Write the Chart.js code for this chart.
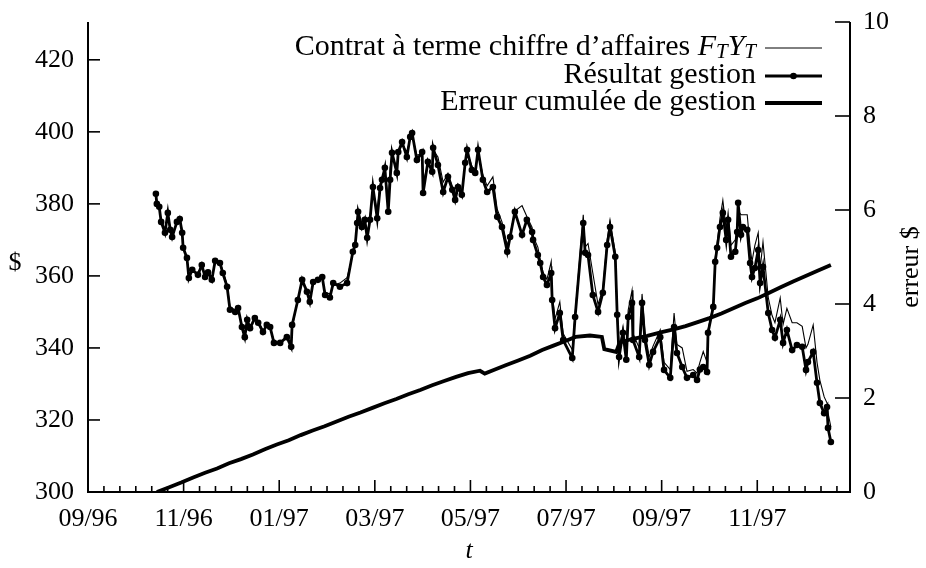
<!DOCTYPE html>
<html><head><meta charset="utf-8">
<script src="https://cdn.jsdelivr.net/npm/chart.js@4.4.1/dist/chart.umd.min.js"></script>
<style>html,body{margin:0;padding:0;background:#fff;}canvas{display:block;}</style>
</head><body>
<canvas id="c" width="926" height="568"></canvas>
<script>
// x values are months elapsed since 09/1996
const monthTicks = [0, 2, 4, 6, 8, 10, 12, 14];
const tickLabels = ['09/96', '11/96', '01/97', '03/97', '05/97', '07/97', '09/97', '11/97'];
const leftTicks = [300, 320, 340, 360, 380, 400, 420];
const rightTicks = [0, 2, 4, 6, 8, 10];

const tResultat = [1.42,1.44,1.49,1.53,1.61,1.67,1.72,1.76,1.86,1.92,1.97,1.99,2.07,2.11,2.18,2.30,2.38,2.45,2.51,2.59,2.66,2.76,2.82,2.91,2.97,3.08,3.14,3.22,3.28,3.33,3.39,3.49,3.56,3.66,3.74,3.81,3.89,4.02,4.16,4.25,4.27,4.39,4.48,4.58,4.64,4.71,4.81,4.90,4.96,5.06,5.13,5.27,5.42,5.54,5.59,5.63,5.65,5.73,5.79,5.84,5.90,5.96,6.05,6.11,6.15,6.21,6.28,6.32,6.36,6.46,6.49,6.57,6.67,6.74,6.78,6.88,6.99,7.01,7.11,7.20,7.22,7.32,7.43,7.53,7.62,7.68,7.74,7.82,7.89,7.93,8.03,8.10,8.16,8.26,8.35,8.47,8.56,8.66,8.77,8.83,8.93,9.08,9.18,9.29,9.31,9.41,9.46,9.52,9.60,9.69,9.71,9.77,9.87,9.94,10.13,10.19,10.36,10.40,10.46,10.56,10.67,10.77,10.86,10.92,11.03,11.07,11.11,11.19,11.26,11.30,11.38,11.40,11.53,11.59,11.65,11.74,11.82,11.97,12.05,12.18,12.26,12.32,12.43,12.53,12.66,12.74,12.80,12.87,12.95,12.97,13.08,13.12,13.16,13.22,13.28,13.35,13.39,13.45,13.54,13.58,13.60,13.66,13.70,13.79,13.85,13.89,13.95,14.02,14.06,14.12,14.23,14.31,14.37,14.48,14.54,14.62,14.73,14.83,14.94,15.02,15.06,15.17,15.25,15.31,15.40,15.46,15.48,15.54];

const resultat = [382.8,380.0,379.2,375.0,372.0,377.5,372.8,370.8,375.0,375.8,372.0,367.8,365.0,359.4,361.7,360.3,363.0,359.7,361.0,358.9,364.2,363.6,360.8,357.0,350.6,350.0,351.1,345.8,343.0,347.8,345.5,348.3,347.0,344.4,346.4,345.8,341.4,341.4,343.0,340.3,346.4,353.3,358.9,355.6,352.8,358.3,358.9,359.7,354.7,354.0,358.0,357.0,358.0,366.7,368.6,374.7,377.8,373.6,375.6,370.6,375.6,384.7,376.0,384.4,386.7,390.0,377.8,386.7,394.2,388.6,394.4,397.2,393.0,398.6,399.7,392.2,394.4,383.0,391.7,388.9,395.6,390.8,383.3,387.5,383.9,381.1,384.7,382.5,391.4,395.0,389.4,388.6,395.0,386.7,383.3,384.7,376.4,373.6,366.7,370.8,377.8,371.4,375.6,372.2,370.0,365.8,363.6,359.7,357.5,360.8,353.3,345.5,349.7,342.2,337.2,348.6,374.7,366.4,365.8,354.7,350.0,355.3,368.6,373.6,365.3,349.2,337.5,344.2,336.7,348.6,352.5,342.2,337.5,352.5,342.2,335.3,338.9,343.0,333.9,331.7,345.8,338.6,334.7,331.7,332.5,331.1,334.0,334.7,333.3,344.2,351.4,363.9,367.8,373.6,377.5,370.0,375.6,365.3,366.7,372.2,380.3,371.4,373.6,372.8,363.6,359.7,362.2,367.2,358.0,362.5,349.7,345.0,342.8,347.8,341.4,345.0,339.4,340.8,340.3,333.9,336.1,338.9,330.3,324.7,321.9,323.6,317.8,313.9];

const contrat = [382.0,381.0,378.5,375.8,373.0,376.5,373.5,371.5,374.5,376.5,372.5,368.5,364.5,360.5,361.0,361.0,362.5,360.5,361.5,359.5,363.5,364.0,361.5,357.5,351.5,350.5,350.8,346.5,344.0,347.0,346.0,347.8,347.5,345.0,346.0,345.5,342.0,341.0,343.5,341.0,345.5,353.8,358.0,356.2,353.5,357.8,359.5,359.0,355.5,355.0,357.5,358.0,359.5,366.0,369.5,374.0,377.0,374.5,375.0,371.5,376.5,384.0,378.0,385.5,387.0,389.5,381.0,390.0,393.5,390.0,393.8,396.5,394.5,398.0,399.0,393.5,394.0,386.0,391.0,390.0,395.0,393.0,386.0,388.5,385.0,382.5,385.5,383.5,391.0,394.5,390.5,389.0,394.5,388.0,385.0,387.5,378.5,375.0,368.5,371.5,378.0,379.5,376.5,373.5,371.0,368.0,364.5,361.0,359.0,364.0,355.0,348.0,352.8,344.0,339.5,349.5,377.0,368.0,369.0,360.8,352.0,356.5,370.0,375.5,366.5,351.0,340.0,345.5,339.0,350.5,356.0,344.0,340.0,355.0,344.5,337.5,340.5,345.0,336.0,334.0,349.7,341.0,340.0,333.5,334.0,333.0,336.0,339.0,336.0,345.0,352.0,365.0,369.0,376.0,381.0,373.0,377.5,368.5,370.0,374.0,378.0,377.0,377.0,377.0,368.0,364.0,368.5,372.0,362.0,369.4,354.0,349.0,347.0,353.9,346.5,351.0,347.0,347.0,346.0,340.0,341.0,346.4,336.0,331.0,326.4,324.7,322.0,318.0];

const tErreur = [1.44,1.70,1.95,2.20,2.45,2.70,2.95,3.20,3.45,3.70,3.95,4.20,4.45,4.70,4.95,5.20,5.45,5.70,5.95,6.20,6.45,6.70,6.95,7.20,7.45,7.70,7.95,8.20,8.30,8.50,8.75,9.00,9.25,9.50,9.75,10.00,10.20,10.50,10.75,10.80,11.05,11.12,11.40,11.70,12.00,12.25,12.50,12.80,13.00,13.25,13.50,13.75,14.00,14.25,14.50,14.75,15.00,15.25,15.54];
const erreur = [0.00,0.10,0.20,0.31,0.41,0.50,0.61,0.70,0.80,0.91,1.01,1.10,1.21,1.31,1.40,1.50,1.60,1.69,1.79,1.89,1.98,2.08,2.17,2.27,2.36,2.45,2.53,2.58,2.52,2.60,2.70,2.80,2.90,3.02,3.12,3.22,3.30,3.33,3.30,3.04,2.98,3.18,3.26,3.32,3.40,3.46,3.53,3.63,3.70,3.80,3.91,4.02,4.12,4.24,4.36,4.48,4.59,4.70,4.83];

const SERIF = "'Liberation Serif', 'Times New Roman', serif";
Chart.defaults.font.family = SERIF;
Chart.defaults.color = '#000';

function line(ctx, x1, y1, x2, y2) { ctx.beginPath(); ctx.moveTo(x1, y1); ctx.lineTo(x2, y2); ctx.stroke(); }

function drawRich(ctx, parts, xRight, yMid) {
  let total = 0;
  parts.forEach(p => { ctx.font = p.f; total += ctx.measureText(p.s).width; });
  let x = xRight - total;
  ctx.textAlign = 'left'; ctx.textBaseline = 'middle';
  parts.forEach(p => { ctx.font = p.f; ctx.fillText(p.s, x, yMid + (p.dy || 0)); x += ctx.measureText(p.s).width; });
}

const decor = {
  id: 'decor',
  afterDraw(chart) {
    const { ctx, chartArea: a, scales: { x, y, y1 } } = chart;
    ctx.save();
    ctx.strokeStyle = '#000'; ctx.fillStyle = '#000';
    ctx.lineWidth = 2;
    ctx.beginPath();
    ctx.moveTo(a.left, a.top); ctx.lineTo(a.left, a.bottom); ctx.lineTo(a.right, a.bottom); ctx.lineTo(a.right, a.top);
    ctx.stroke();
    ctx.lineWidth = 1.6;
    leftTicks.forEach(v => { const p = y.getPixelForValue(v); line(ctx, a.left, p, a.left + 12, p); });
    rightTicks.forEach(v => { const p = y1.getPixelForValue(v); line(ctx, a.right - 15, p, a.right, p); });
    monthTicks.forEach(v => { const p = x.getPixelForValue(v); line(ctx, p, a.bottom, p, a.bottom - 12); });
    for (let k = 0; k / 3 < x.max; k++) {
      if (k % 6 === 0) continue;
      const p = x.getPixelForValue(k / 3);
      line(ctx, p, a.bottom, p, a.bottom - 6);
    }
    // axis titles
    ctx.font = '26px ' + SERIF; ctx.textAlign = 'center'; ctx.textBaseline = 'middle';
    ctx.fillText('$', 15, 263);
    ctx.save(); ctx.translate(911, 267); ctx.rotate(-Math.PI / 2); ctx.fillText('erreur $', 0, 0); ctx.restore();
    ctx.font = 'italic 26px ' + SERIF; ctx.fillText('t', 469, 551);
    // legend
    const N = '30px ' + SERIF, I = 'italic 30px ' + SERIF, S = 'italic 21px ' + SERIF;
    const xr = 756, lx1 = 765, lx2 = 822;
    const rows = [47, 75, 102];
    drawRich(ctx, [{ s: 'Contrat à terme chiffre d’affaires ', f: N }, { s: 'F', f: I }, { s: 'T', f: S, dy: 5 }, { s: 'Y', f: I }, { s: 'T', f: S, dy: 5 }], xr, rows[0]);
    drawRich(ctx, [{ s: 'Résultat gestion', f: N }], xr, rows[1]);
    drawRich(ctx, [{ s: 'Erreur cumulée de gestion', f: N }], xr, rows[2]);
    ctx.lineWidth = 1; line(ctx, lx1, rows[0] + 1, lx2, rows[0] + 1);
    ctx.lineWidth = 2.8; line(ctx, lx1, rows[1] + 1, lx2, rows[1] + 1);
    ctx.beginPath(); ctx.arc((lx1 + lx2) / 2, rows[1] + 1, 3.3, 0, Math.PI * 2); ctx.fill();
    ctx.lineWidth = 3.8; line(ctx, lx1, rows[2] + 1, lx2, rows[2] + 1);
    ctx.restore();
  }
};

const noPadY = s => { s.paddingTop = 0; s.paddingBottom = 0; };

new Chart(document.getElementById('c'), {
  type: 'line',
  data: {
    datasets: [
      { label: 'Contrat à terme chiffre d’affaires', data: tResultat.map((t, i) => ({ x: t, y: contrat[i] })), borderColor: '#000', borderWidth: 1.1, pointRadius: 0, yAxisID: 'y', tension: 0 },
      { label: 'Résultat gestion', data: tResultat.map((t, i) => ({ x: t, y: resultat[i] })), borderColor: '#000', borderWidth: 2.8, pointRadius: 3.3, pointBackgroundColor: '#000', pointBorderWidth: 0, yAxisID: 'y', tension: 0 },
      { label: 'Erreur cumulée de gestion', data: tErreur.map((t, i) => ({ x: t, y: erreur[i] })), borderColor: '#000', borderWidth: 3.8, pointRadius: 0, yAxisID: 'y1', tension: 0 }
    ]
  },
  options: {
    responsive: false, animation: false,
    layout: { padding: { top: 22, left: 0, right: 0, bottom: 0 } },
    plugins: { legend: { display: false }, tooltip: { enabled: false } },
    scales: {
      x: {
        type: 'linear', min: 0, max: 15.94,
        grid: { display: false, drawTicks: false }, border: { display: false },
        afterBuildTicks: s => { s.ticks = monthTicks.map(v => ({ value: v })); },
        afterFit: s => { s.height = 76; s.paddingLeft = 0; s.paddingRight = 0; },
        ticks: { autoSkip: false, maxRotation: 0, padding: 12, font: { size: 26 }, color: '#000',
          callback: v => tickLabels[monthTicks.indexOf(v)] }
      },
      y: {
        position: 'left', min: 300, max: 430.5,
        grid: { display: false, drawTicks: false }, border: { display: false },
        afterBuildTicks: s => { s.ticks = leftTicks.map(v => ({ value: v })); },
        afterFit: s => { s.width = 88; noPadY(s); },
        ticks: { padding: 14, font: { size: 26 }, color: '#000' }
      },
      y1: {
        position: 'right', min: 0, max: 10,
        grid: { display: false, drawTicks: false }, border: { display: false },
        afterBuildTicks: s => { s.ticks = rightTicks.map(v => ({ value: v })); },
        afterFit: s => { s.width = 76; noPadY(s); },
        ticks: { padding: 13, font: { size: 26 }, color: '#000' }
      }
    }
  },
  plugins: [decor]
});
</script>
</body></html>
